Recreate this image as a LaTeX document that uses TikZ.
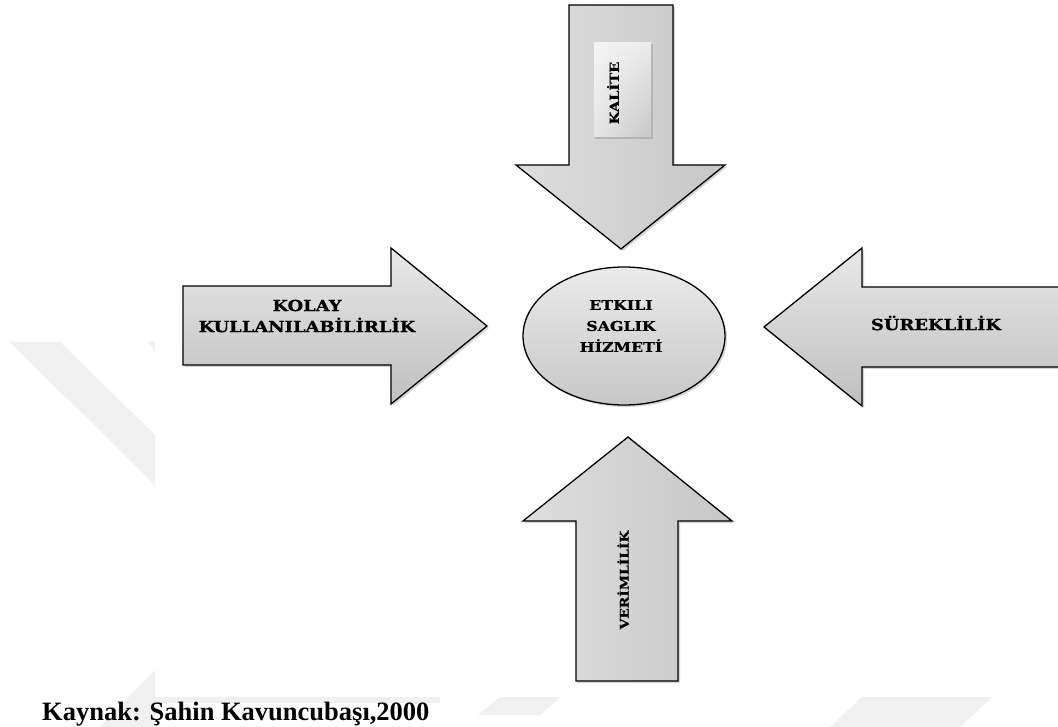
\documentclass[tikz,border=0pt]{standalone}
\usepackage{fontspec}
\setmainfont{Liberation Serif}
\newfontfamily\diafont[FakeStretch=1.17, FakeBold=0.8]{DejaVu Serif}
\usetikzlibrary{shadings}
\begin{document}
\begin{tikzpicture}[x=1pt,y=-1pt,
  wmark/.style={fill=black!6, draw=none},
  arrowshape/.style={draw=black, line width=1.3pt, line join=miter},
  hgrad/.style={top color=black!9, bottom color=black!25},
  vgrad/.style={left color=black!13, right color=black!22},
  shadowcopy/.style={fill=black!35, draw=none, opacity=0.45},
  bigtxt/.style={font=\diafont\bfseries\fontsize{15.3}{21}\selectfont, align=center, inner sep=0pt},
  midtxt/.style={font=\diafont\bfseries\fontsize{13.5}{21}\selectfont, align=center, inner sep=0pt},
  smalltxt/.style={font=\diafont\bfseries\fontsize{12.5}{21}\selectfont, align=center, inner sep=0pt},
  vtxt/.style={font=\diafont\bfseries\fontsize{11.8}{21}\selectfont, align=center, inner sep=0pt},
  capt/.style={font=\bfseries\fontsize{26.5}{30}\selectfont, inner sep=0pt, anchor=base west}
]
\useasboundingbox (0,0) rectangle (1058,727);
\fill[white] (0,0) rectangle (1058,727);

% faint watermark
\fill[wmark] (10,342) -- (60,342) -- (155,435) -- (155,485) -- cycle;
\fill[wmark] (147,342) -- (155,342) -- (155,350) -- cycle;
\fill[wmark] (100,727) -- (155,670) -- (155,727) -- cycle;
\fill[wmark] (155,697) rectangle (440,703);
\fill[wmark] (478,715) -- (500,697) -- (560,697) -- (540,715) -- cycle;
\fill[wmark] (830,727) -- (862,697) -- (992,697) -- (960,727) -- cycle;

% shadows
\fill[shadowcopy, shift={(2,2)}] (569,5) -- (673,5) -- (673,165) -- (725,165) -- (621,249) -- (516,165) -- (569,165) -- cycle;
\fill[shadowcopy, shift={(2,2)}] (183,286) -- (391,286) -- (391,248) -- (487,326) -- (391,404) -- (391,365) -- (183,365) -- cycle;
\fill[shadowcopy, shift={(2,2)}] (1062,287) -- (862,287) -- (862,248) -- (764,327) -- (862,406) -- (862,367) -- (1062,367) -- cycle;
\fill[shadowcopy, shift={(2,2)}] (576,681) -- (576,521) -- (523,521) -- (628,437) -- (732,521) -- (678,521) -- (678,681) -- cycle;
\fill[shadowcopy, shift={(2,2)}] (624,336) ellipse [x radius=101, y radius=69];

% arrows
\path[arrowshape, vgrad] (569,5) -- (673,5) -- (673,165) -- (725,165) -- (621,249) -- (516,165) -- (569,165) -- cycle;
\path[arrowshape, hgrad] (183,286) -- (391,286) -- (391,248) -- (487,326) -- (391,404) -- (391,365) -- (183,365) -- cycle;
\path[arrowshape, hgrad] (1062,287) -- (862,287) -- (862,248) -- (764,327) -- (862,406) -- (862,367) -- (1062,367) -- cycle;
\path[arrowshape, vgrad] (576,681) -- (576,521) -- (523,521) -- (628,437) -- (732,521) -- (678,521) -- (678,681) -- cycle;

% centre ellipse
\path[arrowshape, top color=black!8, bottom color=black!22] (624,336) ellipse [x radius=101, y radius=69];
\node[midtxt] (center) at (621,326) {ETKILI\\SAGLIK\\HİZMETİ};

% KALITE label box
\fill[black!40, opacity=0.5] (595,44) rectangle (653,139);
\shade[upper left=black!4, upper right=black!8, lower left=black!10, lower right=black!22] (594,43) rectangle (651,137);
\node[smalltxt, rotate=90] (kalite) at (613,93) {KALİTE};

\node[bigtxt] (kolay) at (307,316) {KOLAY\\KULLANILABİLİRLİK};
\node[bigtxt] (sureklilik) at (936,323) {SÜREKLİLİK};
\node[vtxt, rotate=90] (verimlilik) at (623,580) {VERİMLİLİK};

\node[capt] (kaynak) at (42,720) {Kaynak: Şahin Kavuncubaşı,2000};
\end{tikzpicture}
\end{document}
